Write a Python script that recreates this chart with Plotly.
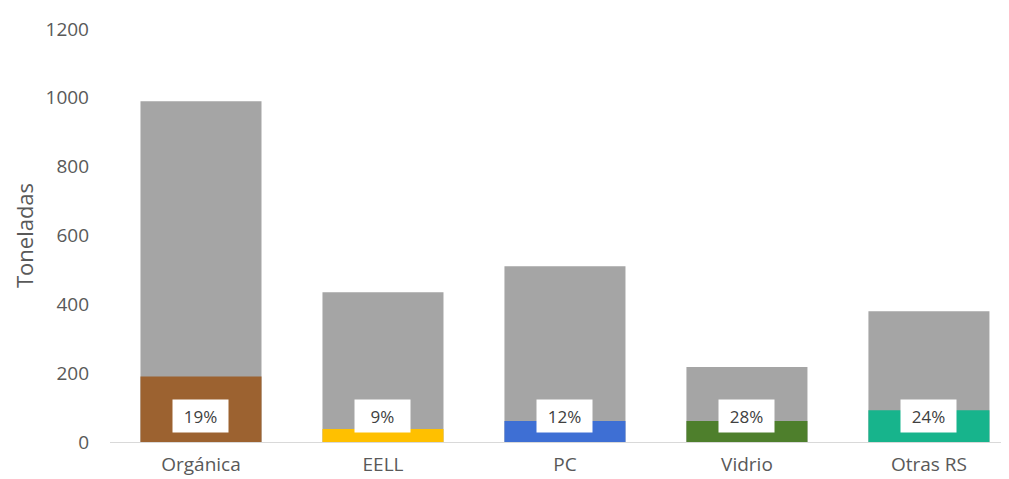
import plotly.graph_objects as go

categories = ["Orgánica", "EELL", "PC", "Vidrio", "Otras RS"]
total_tons = [990, 435, 511, 218, 380]
collected_tons = [190, 38, 61, 61, 92]
pct_labels = ["19%", "9%", "12%", "28%", "24%"]
bar_colors = ["#9C6230", "#FFC000", "#3E6FD4", "#4E7F2C", "#17B48C"]
y_ticks = [0, 200, 400, 600, 800, 1000, 1200]
label_y = 75

FONT = "Open Sans"

fig = go.Figure()
fig.add_trace(go.Bar(x=categories, y=total_tons, marker=dict(color="#A5A5A5", line=dict(width=0)),
                     width=0.665, showlegend=False, hoverinfo="skip"))
fig.add_trace(go.Bar(x=categories, y=collected_tons, marker=dict(color=bar_colors, line=dict(width=0)),
                     width=0.665, showlegend=False, hoverinfo="skip"))

for c, p in zip(categories, pct_labels):
    fig.add_annotation(x=c, y=label_y, text=p, showarrow=False,
                       font=dict(family=FONT, size=17, color="#404040"),
                       bgcolor="white", borderpad=5, width=45, height=22)

fig.update_layout(
    width=1001, height=471,
    barmode="overlay",
    plot_bgcolor="white", paper_bgcolor="white",
    margin=dict(l=102, r=0, t=21, b=37, autoexpand=False),
    font=dict(family=FONT, color="#595959", size=19),
    xaxis=dict(range=[-0.5, 4.44], showline=True, linecolor="#D9D9D9", linewidth=1,
               ticks="", ticklabelstandoff=5, tickfont=dict(size=19, color="#595959"),
               showgrid=False, automargin=False),
    yaxis=dict(range=[0, 1200], tickvals=y_ticks, showgrid=False, zeroline=False,
               showline=False, ticklabelstandoff=20, tickfont=dict(size=19, color="#595959"),
               title=dict(text="Toneladas", font=dict(size=22, color="#595959"), standoff=5),
               automargin=False),
)

fig.write_html("out.html")
